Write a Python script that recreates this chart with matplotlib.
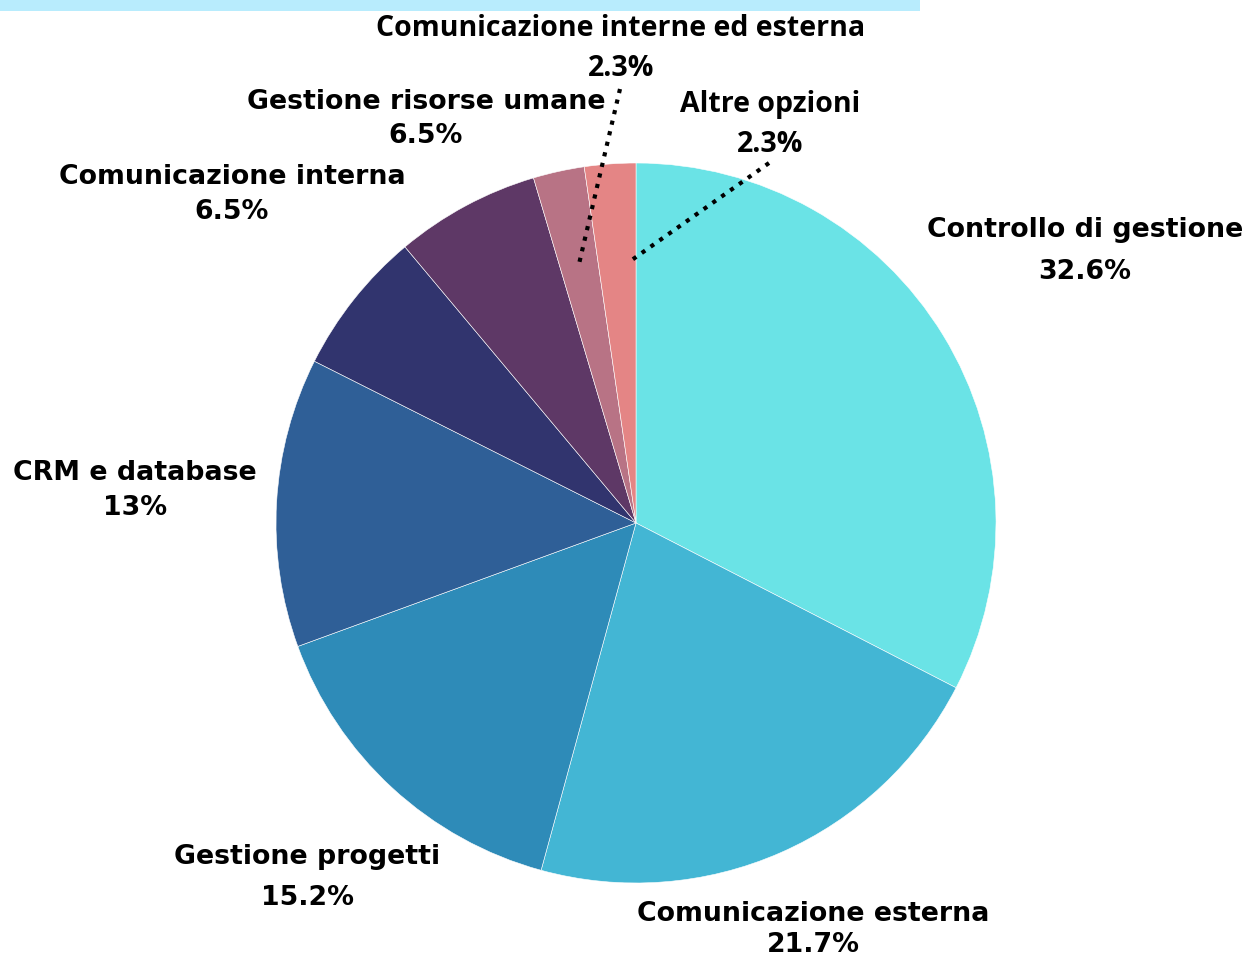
import matplotlib.pyplot as plt
from matplotlib.patches import Rectangle

# Slice data, clockwise from the top
categories = ['Controllo di gestione', 'Comunicazione esterna', 'Gestione progetti',
              'CRM e database', 'Comunicazione interna', 'Gestione risorse umane',
              'Comunicazione interne ed esterna', 'Altre opzioni']
shares = [32.6, 21.7, 15.2, 13, 6.5, 6.5, 2.3, 2.3]
pct_labels = ['32.6%', '21.7%', '15.2%', '13%', '6.5%', '6.5%', '2.3%', '2.3%']

colors = ['#6ae3e6', '#43b6d4', '#2e8bb8', '#2f5f97', '#31346e',
          '#5e3866', '#b87385', '#e48585']

W, H = 1246, 958
CX, CY, R = 636, 523, 360

fig = plt.figure(figsize=(W / 100, H / 100), dpi=100)
fig.patches.append(Rectangle((0, 1 - 11 / H), 920 / W, 11 / H, transform=fig.transFigure,
                             facecolor='#b8ecfd', edgecolor='none'))

ax = fig.add_axes([0, 0, 1, 1])
ax.pie(shares, colors=colors, startangle=90, counterclock=False,
       center=(CX, H - CY), radius=R,
       wedgeprops=dict(edgecolor='white', linewidth=0.4))
# pie() resets the limits, so set them afterwards (1 data unit = 1 pixel)
ax.set_xlim(0, W)
ax.set_ylim(0, H)
ax.set_aspect('equal')
ax.axis('off')

# label anchor points (pixel positions of the name line and the percentage line)
label_pos = [(1085, 230, 272), (813, 914, 945), (307, 857, 898), (135, 473, 508),
             (232, 177, 212), (426, 102, 136), (621, 28, 68), (770, 104, 144)]
# the two small slices use callout labels in a narrower face
callouts = {6, 7}

for i, (name, pct) in enumerate(zip(categories, pct_labels)):
    x, y1, y2 = label_pos[i]
    if i in callouts:
        style = dict(fontsize=20.5, fontweight='bold', family=['Open Sans'])
    else:
        style = dict(fontsize=19.3, fontweight='bold', family=['DejaVu Sans'])
    ax.text(x, H - y1, name, ha='center', va='center', color='black', **style)
    ax.text(x, H - y2, pct, ha='center', va='center', color='black', **style)

# dotted leader lines for the two small slices
ax.plot([620, 579], [H - 89, H - 264], color='black', lw=3, linestyle=(0, (1, 1.6)))
ax.plot([769, 629], [H - 163, H - 262], color='black', lw=3, linestyle=(0, (1, 1.6)))

fig.savefig('out.png', dpi=100)
